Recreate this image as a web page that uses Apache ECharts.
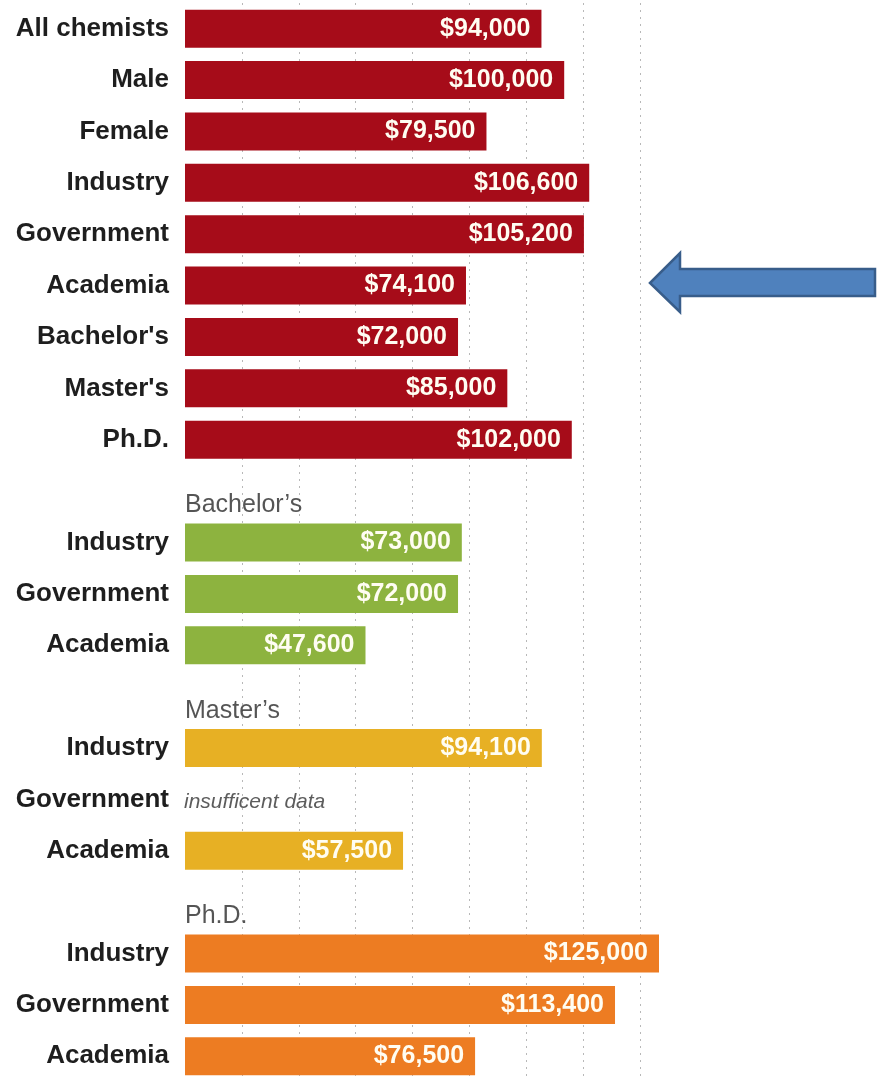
<!DOCTYPE html>
<html>
<head>
<meta charset="utf-8">
<title>Chemists median salaries</title>
<script src="https://cdn.jsdelivr.net/npm/echarts@6/dist/echarts.min.js"></script>
<style>
  html, body { margin: 0; padding: 0; background: #fff; }
  #main { width: 877px; height: 1078px; }
</style>
</head>
<body>
<div id="main"></div>
<script>
// overall medians
var overallNames = ['All chemists', 'Male', 'Female', 'Industry', 'Government', 'Academia', "Bachelor's", "Master's", 'Ph.D.'];
var overallValues = [94000, 100000, 79500, 106600, 105200, 74100, 72000, 85000, 102000];

// by degree and sector
var sectorNames = ['Industry', 'Government', 'Academia'];
var groupTitles = ['Bachelor\u2019s', 'Master\u2019s', 'Ph.D.'];
var bachelorValues = [73000, 72000, 47600];
var masterValues = [94100, null, 57500]; // government: insufficent data
var phdValues = [125000, 113400, 76500];
var missingNote = 'insufficent data';

var RED = '#a60c19';
var GREEN = '#8db33f';
var GOLD = '#e7b024';
var ORANGE = '#ed7c22';

function money(v) {
  return '$' + String(v).replace(/\B(?=(\d{3})+(?!\d))/g, ',');
}

// build the rows (a blank row sits above each degree group for its title)
var categories = [];
var barData = [];
var titleData = [];
var noteData = [];

overallNames.forEach(function (name, i) {
  categories.push(name);
  barData.push({ value: overallValues[i], itemStyle: { color: RED } });
});

[[bachelorValues, GREEN], [masterValues, GOLD], [phdValues, ORANGE]].forEach(function (g, gi) {
  categories.push('');
  barData.push('-');
  titleData.push({ name: groupTitles[gi], value: [0, categories.length - 1] });
  sectorNames.forEach(function (name, i) {
    categories.push(name);
    var v = g[0][i];
    if (v == null) {
      barData.push('-');
      noteData.push({ name: missingNote, value: [0, categories.length - 1] });
    } else {
      barData.push({ value: v, itemStyle: { color: g[1] } });
    }
  });
});

var chart = echarts.init(document.getElementById('main'));
chart.setOption({
  animation: false,
  textStyle: { fontFamily: 'Liberation Sans, Arial, sans-serif' },
  grid: { left: 185, top: 3, width: 474, height: 1079, containLabel: false, outerBoundsMode: 'none' },
  xAxis: {
    type: 'value',
    min: 0,
    max: 125000,
    interval: 15000,
    axisLine: { show: false },
    axisTick: { show: false },
    axisLabel: { show: false },
    splitLine: {
      show: true,
      showMinLine: false,
      showMaxLine: false,
      lineStyle: { color: '#b8b8b8', width: 1, type: [2, 5] }
    }
  },
  yAxis: {
    type: 'category',
    inverse: true,
    data: categories,
    axisLine: { show: false },
    axisTick: { show: false },
    axisLabel: {
      margin: 16,
      color: '#1e1e1e',
      fontSize: 26,
      fontWeight: 'bold'
    }
  },
  series: [
    {
      type: 'bar',
      data: barData,
      barWidth: 38,
      label: {
        show: true,
        position: 'insideRight',
        distance: 11,
        color: '#fffdf2',
        fontSize: 25,
        fontWeight: 'bold',
        formatter: function (p) { return money(p.value); }
      }
    },
    {
      type: 'scatter',
      data: titleData,
      symbolSize: 0,
      silent: true,
      label: {
        show: true,
        position: 'right',
        distance: 0,
        offset: [0, 14],
        formatter: '{b}',
        color: '#2b2b2b',
        fontSize: 25
      }
    },
    {
      type: 'scatter',
      data: noteData,
      symbolSize: 0,
      silent: true,
      label: {
        show: true,
        position: 'right',
        distance: 0,
        offset: [-1, 3],
        formatter: '{b}',
        color: '#333',
        fontSize: 21,
        fontStyle: 'italic'
      }
    }
  ],
  graphic: [
    {
      type: 'polygon',
      shape: {
        points: [[650, 283], [680, 253], [680, 269], [875, 269], [875, 296], [680, 296], [680, 312]]
      },
      style: { fill: '#4f81bd', stroke: '#385d8a', lineWidth: 2.5 }
    }
  ]
});
</script>
</body>
</html>
